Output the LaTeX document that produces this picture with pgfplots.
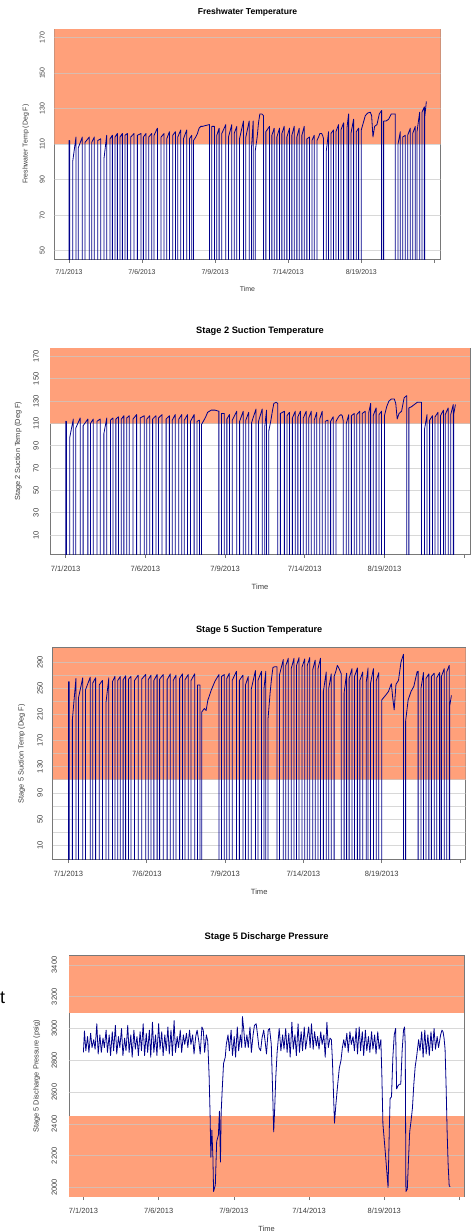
\documentclass[border=0pt]{standalone}
\usepackage{fontspec}
\setmainfont{Liberation Sans}
\usepackage{pgfplots}
\usepackage{pgfplotstable}
\pgfplotsset{compat=1.18}
\definecolor{salmonbg}{RGB}{255,160,122}
\definecolor{dblue}{RGB}{0,0,139}
\definecolor{gridc}{RGB}{200,200,200}
\definecolor{boxc}{RGB}{120,120,120}
\definecolor{txtc}{RGB}{60,60,60}

\pgfplotstableread{
x fw s2 s5
0 -99 -99 -99
0 112 112 260
2 112 112 260
2 -99 -99 -99
11 -99 -99 -99
11 100 97 202
21 114 114 265
21 -99 -99 -99
28 -99 -99 -99
28 108 106 235
40 114 115 266
40 -99 -99 -99
48 -99 -99 -99
48 111 108 248
61 114 114 267
61 -99 -99 -99
68 -99 -99 -99
68 111 110 258
76 114 114 266
76 -99 -99 -99
86 -99 -99 -99
86 112 112 255
95 113 114 262
95 -99 -99 -99
105 -99 -99 -99
105 102 101 228
113 115 115 266
113 -99 -99 -99
123 -99 -99 -99
123 113 113 260
130 115 115 268
130 -99 -99 -99
138 -99 -99 -99
138 114 114 262
145 116 116 268
145 -99 -99 -99
153 -99 -99 -99
153 114 114 263
160 116 117 269
160 -99 -99 -99
168 -99 -99 -99
168 115 115 264
175 116 117 268
175 -99 -99 -99
185 -99 -99 -99
185 114 114 262
195 116 118 270
195 -99 -99 -99
205 -99 -99 -99
205 115 115 264
216 116 117 271
216 -99 -99 -99
223 -99 -99 -99
223 114 114 263
231 116 117 270
231 -99 -99 -99
239 -99 -99 -99
239 114 114 262
248 116 117 271
248 -99 -99 -99
255 -99 -99 -99
255 115 115 264
265 119 118 271
265 -99 -99 -99
276 -99 -99 -99
276 114 114 263
285 116 117 272
285 -99 -99 -99
293 -99 -99 -99
293 113 113 262
301 117 118 270
301 -99 -99 -99
311 -99 -99 -99
311 115 114 265
319 117 118 272
319 -99 -99 -99
326 -99 -99 -99
326 114 113 263
335 118 118 271
335 -99 -99 -99
343 -99 -99 -99
343 113 112 262
353 118 118 272
353 -99 -99 -99
361 -99 -99 -99
361 113 112 255
368 115 113 255
368 -99 -99 -99
373 -99 -99 -99
373 112 109 214
380 114 113 219
385 116 116 216
390 119 120 232
395 120 121 240
400 120 122 248
410 120.5 122 261
421 121 121 271
421 -99 -99 -99
428 -99 -99 -99
428 120 119 268
436 120 119 271
436 -99 -99 -99
443 -99 -99 -99
443 115 114 265
450 119 118 273
450 -99 -99 -99
458 -99 -99 -99
458 116 113 262
470 121 121 276
470 -99 -99 -99
478 -99 -99 -99
478 114 112 262
488 121 121 270
488 -99 -99 -99
495 -99 -99 -99
495 116 113 255
503 120 120 268
503 -99 -99 -99
511 -99 -99 -99
511 113 111 248
523 123 123 277
523 -99 -99 -99
530 -99 -99 -99
530 114 112 262
540 123 123 276
540 -99 -99 -99
547 -99 -99 -99
547 108 107 250
552 123 122 276
552 -99 -99 -99
558 -99 -99 -99
558 106 103 202
564 114 113 243
568 122 121 265
572 127 128 282
578 127 129 283
583 126 128 283
583 -99 -99 -99
590 -99 -99 -99
590 117 119 270
601 120 121 294
601 -99 -99 -99
608 -99 -99 -99
608 115 117 285
615 119 120 296
615 -99 -99 -99
623 -99 -99 -99
623 114 115 280
631 119 121 296
631 -99 -99 -99
638 -99 -99 -99
638 116 116 285
645 120 121 297
645 -99 -99 -99
653 -99 -99 -99
653 114 115 282
661 119 121 295
661 -99 -99 -99
668 -99 -99 -99
668 115 115 285
675 120 121 297
675 -99 -99 -99
683 -99 -99 -99
683 114 113 278
690 119 120 293
690 -99 -99 -99
698 -99 -99 -99
698 115 114 280
705 120 121 296
705 -99 -99 -99
713 -99 -99 -99
713 113 112 245
721 114 113 275
721 -99 -99 -99
728 -99 -99 -99
728 112 112 250
735 115 116 272
735 -99 -99 -99
743 -99 -99 -99
743 112 112 268
748 114 115 276
752 116 117 285
757 116 118 280
760 115 117 276
763 113 112 272
763 -99 -99 -99
771 -99 -99 -99
771 106 110 243
778 117 118 273
778 -99 -99 -99
785 -99 -99 -99
785 116 117 265
793 118 119 280
793 -99 -99 -99
800 -99 -99 -99
800 117 118 268
808 121 121 281
808 -99 -99 -99
815 -99 -99 -99
815 118 119 262
823 122 121 275
823 -99 -99 -99
833 -99 -99 -99
833 119 120 260
838 127 128 281
838 -99 -99 -99
845 -99 -99 -99
845 116 117 258
853 124 124 280
853 -99 -99 -99
861 -99 -99 -99
861 117 118 262
868 119 121 274
868 -99 -99 -99
876 -99 -99 -99
876 118 117 232
882 122 125 236
888 126 130 240
895 127.5 132 245
903 128 132 257
907 126 128 235
911 114 114 217
916 120 119 256
923 121 121 262
930 127 133 290
937 129 135 302
937 -99 -99 -99
943 -99 -99 -99
943 123 124 200
950 123 125 232
958 124 127 245
966 127 129 253
975 127 129 275
978 127 129 276
978 -99 -99 -99
986 -99 -99 -99
986 110 105 250
993 117 118 274
993 -99 -99 -99
1000 -99 -99 -99
1000 114 113 265
1008 115 117 272
1008 -99 -99 -99
1015 -99 -99 -99
1015 115 116 268
1023 119 120 273
1023 -99 -99 -99
1030 -99 -99 -99
1030 116 117 266
1038 120 122 274
1038 -99 -99 -99
1043 -99 -99 -99
1043 117 118 268
1051 128 124 280
1051 -99 -99 -99
1058 -99 -99 -99
1058 128 118 275
1065 131 127 285
1065 -99 -99 -99
1066 -99 -99 -99
1066 125 118 222
1071 134 127 239
}\tempdata

\pgfplotstableread{
x p
0 2850
3 2985
7 2860
12 2950
16 2850
21 2970
25 2880
30 2930
34 2870
39 3030
43 2840
48 2960
52 2850
57 2940
61 2880
66 2990
70 2850
75 2960
79 2830
84 2980
88 2860
93 3020
97 2840
102 2950
106 2880
111 3000
115 2830
120 2940
124 2860
129 3020
133 2850
138 2960
142 2820
147 2990
151 2870
156 2950
160 2830
165 2980
169 2860
174 3030
178 2830
183 2970
187 2850
192 2990
196 2820
201 3040
205 2850
210 2960
214 2830
219 3030
223 2870
228 2980
232 2830
237 2960
241 2860
246 3010
250 2840
255 2990
259 2830
264 3050
268 2850
273 2950
277 2880
282 2990
286 2850
291 2960
295 2900
300 2970
304 2880
309 2990
313 2900
318 2960
322 2840
327 2950
331 2990
336 2920
340 2840
345 3010
349 2990
353 2850
358 2960
362 2920
366 2700
369 2440
371 2190
374 2360
377 2190
379 1975
384 2015
388 2290
393 2330
396 2480
399 2160
401 2470
404 2610
408 2780
413 2820
416 2900
421 2960
425 2860
430 2990
434 2830
439 2950
443 2820
448 3010
452 2860
457 2960
461 2880
463 3075
467 2990
471 2880
476 2960
480 2880
485 3010
489 2850
494 2960
498 3020
503 3030
507 2960
511 2880
516 2860
520 2940
525 2990
529 2920
533 2840
538 2990
542 3000
544 2960
547 2900
551 2600
554 2350
557 2500
560 2690
564 2850
570 3000
575 2860
580 2960
584 2870
589 3000
593 2850
598 2970
602 2820
607 3040
611 2870
616 2960
620 2830
625 3030
629 2850
634 2980
638 2860
643 3010
647 2870
652 2950
656 3010
660 2880
664 3030
669 2870
673 2980
678 2890
682 2950
686 2870
691 2980
695 2900
700 2960
704 2820
709 3040
713 2880
718 2940
722 2930
725 2800
728 2600
731 2405
735 2520
740 2640
745 2750
750 2800
754 2880
758 2930
762 2880
767 2970
771 2850
776 2980
780 2900
785 2950
789 2860
794 3000
798 2840
803 3010
807 2860
812 2980
816 2830
821 2990
825 2860
830 2950
834 2850
839 2980
843 2870
848 2960
852 2840
857 2980
861 2870
866 2930
869 2700
872 2400
879 2220
887 2000
891 2400
893 2560
897 2570
901 2820
905 2960
909 3000
912 2620
916 2640
920 2650
924 2650
928 2860
932 2990
935 3010
937 2900
939 1975
943 1990
947 2200
950 2350
954 2420
958 2500
962 2650
966 2760
970 2820
976 2930
980 2860
985 2980
989 2820
994 2990
998 2840
1003 2960
1007 2830
1012 2980
1016 2860
1021 3000
1025 2870
1030 2950
1034 2880
1040 2960
1044 2990
1047 2980
1050 2940
1053 2870
1056 2640
1059 2350
1062 2140
1065 2010
1068 2005
}\pressdata

\pgfplotsset{
  rchart/.style={
    scale only axis, anchor=north west,
    axis line style={draw=boxc, line width=0.6bp},
    xtick={0,219,438,657,876,1095},
    xticklabels={7/1/2013,7/6/2013,7/9/2013,7/14/2013,8/19/2013,{}},
    xtick pos=bottom, ytick pos=left,
    tick align=outside,
    major tick length=3.5bp,
    xtick style={draw=boxc, line width=0.6bp},
    ytick style={draw=none},
    xticklabel style={anchor=center},
    yticklabel style={rotate=90, anchor=center},
    tick label style={text=txtc},
    /pgf/number format/assume math mode=true,
    /pgf/number format/1000 sep={},
  },
  dline/.style={draw=dblue, line width=0.8bp, mark=none, line join=round},
}

\begin{document}
\begin{tikzpicture}
\useasboundingbox (0,0) rectangle (474bp,-1232bp);

% ---------------- Panel 1
\begin{axis}[rchart, at={(54.3bp,-29bp)}, width=386.4bp, height=230.3bp,
  xmin=-44, xmax=1114, ymin=45.2, ymax=174.8,
  ytick={50,70,90,110,130,150,170},
  tick label style={font=\fontsize{7}{8}\selectfont},
  xticklabel shift=9.5bp, yticklabel shift=8.5bp,
  every axis title/.style={at={(0.5,1)},anchor=center,yshift=16.7bp,font=\bfseries\fontsize{8.6}{10}\selectfont},
  title={Freshwater Temperature},
  every axis x label/.style={at={(axis description cs:0.5,0)},anchor=center,yshift=-30bp,font=\fontsize{7}{8}\selectfont,text=txtc},
  xlabel={Time},
  every axis y label/.style={at={(axis description cs:-0.074,0.5)},rotate=90,anchor=center,font=\fontsize{7}{8}\selectfont,text=txtc},
  ylabel={Freshwater Temp (Deg F)},
]
\fill[salmonbg] (axis cs:-44,110) rectangle (axis cs:1114,174.8);
\pgfplotsinvokeforeach{50,70,90,110,130,150,170}{\draw[gridc, line width=0.8bp, opacity=0.7] (axis cs:-44,#1) -- (axis cs:1114,#1);}
\addplot[dline] table[x=x,y=fw]{\tempdata};
\end{axis}

% ---------------- Panel 2
\begin{axis}[rchart, at={(50bp,-348.3bp)}, width=420bp, height=206bp,
  xmin=-43, xmax=1111, ymin=-7.2, ymax=177.4,
  ytick={10,30,50,70,90,110,130,150,170},
  tick label style={font=\fontsize{7.6}{9}\selectfont},
  xticklabel shift=10.5bp, yticklabel shift=10.5bp,
  every axis title/.style={at={(0.5,1)},anchor=center,yshift=17.6bp,font=\bfseries\fontsize{9.3}{11}\selectfont},
  title={Stage 2 Suction Temperature},
  every axis x label/.style={at={(axis description cs:0.5,0)},anchor=center,yshift=-32bp,font=\fontsize{7.6}{9}\selectfont,text=txtc},
  xlabel={Time},
  every axis y label/.style={at={(axis description cs:-0.0755,0.5)},rotate=90,anchor=center,font=\fontsize{7.4}{9}\selectfont,text=txtc},
  ylabel={Stage 2 Suction Temp (Deg F)},
]
\fill[salmonbg] (axis cs:-43,110) rectangle (axis cs:1111,177.4);
\pgfplotsinvokeforeach{10,30,50,70,90,110,130,150,170}{\draw[gridc, line width=0.8bp, opacity=0.7] (axis cs:-43,#1) -- (axis cs:1111,#1);}
\addplot[dline] table[x=x,y=s2]{\tempdata};
\end{axis}

% ---------------- Panel 3
\begin{axis}[rchart, at={(52.7bp,-647.7bp)}, width=413bp, height=212bp,
  xmin=-44, xmax=1111, ymin=-12, ymax=312,
  ytick={10,30,50,70,90,110,130,150,170,190,210,230,250,270,290},
  yticklabels={10,,50,,90,,130,,170,,210,,250,,290},
  tick label style={font=\fontsize{7.6}{9}\selectfont},
  xticklabel shift=10.1bp, yticklabel shift=9.2bp,
  every axis title/.style={at={(0.5,1)},anchor=center,yshift=17.7bp,font=\bfseries\fontsize{9.2}{11}\selectfont},
  title={Stage 5 Suction Temperature},
  every axis x label/.style={at={(axis description cs:0.5,0)},anchor=center,yshift=-32bp,font=\fontsize{7.6}{9}\selectfont,text=txtc},
  xlabel={Time},
  every axis y label/.style={at={(axis description cs:-0.075,0.5)},rotate=90,anchor=center,font=\fontsize{7.4}{9}\selectfont,text=txtc},
  ylabel={Stage 5 Suction Temp (Deg F)},
]
\fill[salmonbg] (axis cs:-44,110) rectangle (axis cs:1111,312);
\pgfplotsinvokeforeach{10,30,50,70,90,110,130,150,170,190,210,230,250,270,290}{\draw[gridc, line width=0.8bp, opacity=0.7] (axis cs:-44,#1) -- (axis cs:1111,#1);}
\addplot[dline] table[x=x,y=s5]{\tempdata};
\end{axis}

% ---------------- Panel 4
\begin{axis}[rchart, at={(69bp,-955.7bp)}, width=395.3bp, height=241bp,
  xmin=-42, xmax=1109, ymin=1942, ymax=3458,
  ytick={2000,2200,2400,2600,2800,3000,3200,3400},
  tick label style={font=\fontsize{7.5}{9}\selectfont},
  xticklabel shift=10.5bp, yticklabel shift=11.2bp,
  every axis title/.style={at={(0.5,1)},anchor=center,yshift=18.7bp,font=\bfseries\fontsize{9.4}{11}\selectfont},
  title={Stage 5 Discharge Pressure},
  every axis x label/.style={at={(axis description cs:0.5,0)},anchor=center,yshift=-32.3bp,font=\fontsize{7.5}{9}\selectfont,text=txtc},
  xlabel={Time},
  every axis y label/.style={at={(axis description cs:-0.0817,0.5)},rotate=90,anchor=center,font=\fontsize{7.4}{9}\selectfont,text=txtc},
  ylabel={Stage 5 Discharge Pressure (psig)},
]
\fill[salmonbg] (axis cs:-42,3100) rectangle (axis cs:1109,3458);
\fill[salmonbg] (axis cs:-42,1942) rectangle (axis cs:1109,2450);
\pgfplotsinvokeforeach{2000,2200,2400,2600,2800,3000,3200,3400}{\draw[gridc, line width=0.8bp, opacity=0.7] (axis cs:-42,#1) -- (axis cs:1109,#1);}
\addplot[dline] table[x=x,y=p]{\pressdata};
\end{axis}

\node[font=\fontsize{18}{20}\selectfont, anchor=center] at (2.5bp,-998bp) {t};
\end{tikzpicture}
\end{document}
